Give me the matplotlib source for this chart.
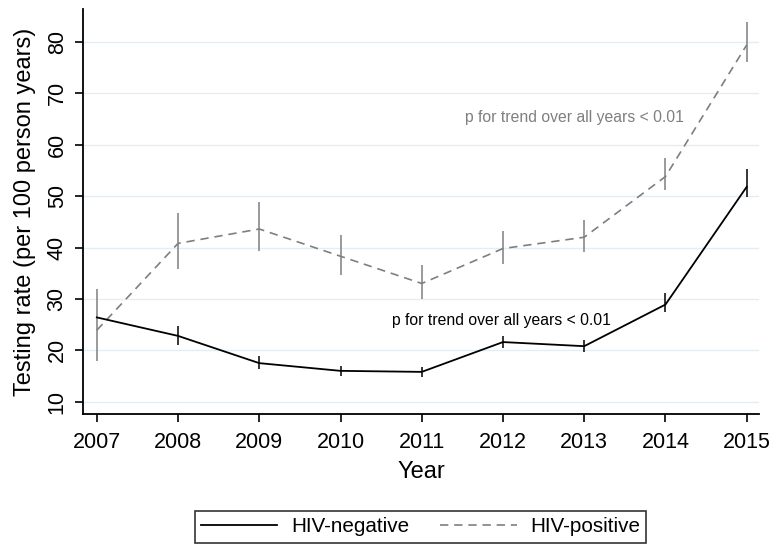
import matplotlib
matplotlib.use("Agg")
import matplotlib.pyplot as plt
from matplotlib.lines import Line2D

plt.rcParams['font.family'] = ['Liberation Sans', 'DejaVu Sans']

years = [2007, 2008, 2009, 2010, 2011, 2012, 2013, 2014, 2015]
neg_rate = [26.4, 22.8, 17.5, 16.0, 15.8, 21.6, 20.8, 28.9, 51.8]
neg_lo = [26.4, 21.1, 16.3, 15.0, 14.8, 20.4, 19.6, 27.5, 49.8]
neg_hi = [26.4, 24.7, 18.9, 17.0, 16.8, 22.8, 22.0, 31.1, 55.2]
pos_rate = [23.9, 40.8, 43.6, 38.3, 33.0, 39.8, 42.0, 53.8, 79.4]
pos_lo = [17.9, 35.8, 39.4, 34.6, 30.0, 36.7, 39.2, 51.2, 76.1]
pos_hi = [31.9, 46.8, 48.8, 42.5, 36.5, 43.3, 45.4, 57.5, 83.9]
y_ticks = [10, 20, 30, 40, 50, 60, 70, 80]
annot_text = "p for trend over all years < 0.01"

fig = plt.figure(figsize=(7.72, 5.47), dpi=100)
ax = fig.add_axes([0.1075, 0.2431, 0.8755, 0.7404])

gray = '#7f7f7f'
dash = (5, 3.5)
ax.vlines(years, pos_lo, pos_hi, color=gray, lw=1.1, zorder=3)
ax.plot(years, pos_rate, color=gray, lw=1.2, dashes=dash, zorder=3)
ax.vlines(years, neg_lo, neg_hi, color='black', lw=1.1, zorder=4)
ax.plot(years, neg_rate, color='black', lw=1.3, zorder=4)

ax.text(2011.53, 65.2, annot_text, color=gray, fontsize=11.3, va='center', ha='left')
ax.text(2010.63, 25.7, annot_text, color='black', fontsize=11.3, va='center', ha='left')

ax.set_xlim(2006.83, 2015.15)
ax.set_ylim(7.6, 86.4)
ax.set_xticks(years)
ax.set_yticks(y_ticks)
ax.grid(axis='y', color='#e4eef2', lw=1.0, zorder=0)
ax.set_axisbelow(True)
for s in ['top', 'right']:
    ax.spines[s].set_visible(False)
for s in ['left', 'bottom']:
    ax.spines[s].set_linewidth(1.3)
ax.tick_params(axis='both', labelsize=15.5, length=6, width=1.2, direction='out')
ax.tick_params(axis='x', pad=7)
ax.tick_params(axis='y', pad=5)
for lab in ax.get_yticklabels():
    lab.set_rotation(90)
    lab.set_va('center')
ax.set_xlabel('Year', fontsize=17, labelpad=6)
ax.set_ylabel('Testing rate (per 100 person years)', fontsize=17, labelpad=8)

handles = [Line2D([], [], color='black', lw=1.3),
           Line2D([], [], color=gray, lw=1.2, dashes=dash)]
leg = fig.legend(handles, ['HIV-negative', 'HIV-positive'], loc='center',
                 bbox_to_anchor=(0.5447, 0.0366), ncol=2, fontsize=14.9,
                 frameon=True, fancybox=False, edgecolor='black',
                 handlelength=3.7, handletextpad=0.65, columnspacing=1.5,
                 borderpad=0.3)
leg.get_frame().set_linewidth(1.2)

fig.savefig('out.png', dpi=100, facecolor='white')
